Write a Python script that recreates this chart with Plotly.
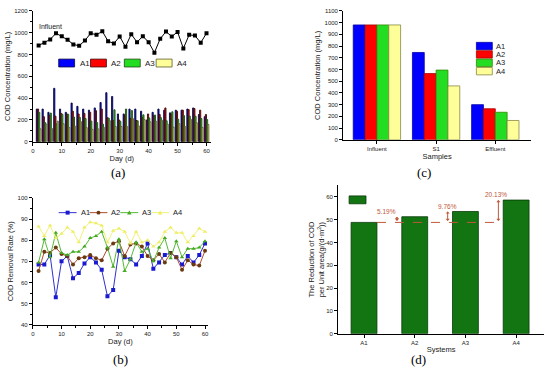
import plotly.graph_objects as go

# ---------------- data ----------------
days = list(range(2, 61, 2))
influent = [883, 908, 938, 995, 968, 935, 892, 880, 928, 995, 980, 1013, 922, 901, 965,
            871, 986, 913, 968, 913, 817, 944, 1010, 965, 1007, 856, 980, 974, 908, 995]
eff_A1 = [300, 300, 270, 490, 300, 270, 355, 325, 300, 290, 310, 360, 450, 415, 255,
          255, 300, 300, 280, 200, 270, 300, 290, 265, 290, 290, 300, 310, 250, 230]
eff_A2 = [300, 230, 245, 235, 260, 255, 280, 255, 260, 270, 285, 300, 220, 195, 200,
          240, 215, 195, 225, 255, 240, 250, 310, 255, 280, 290, 295, 305, 290, 250]
eff_A3 = [269, 177, 263, 164, 252, 252, 227, 224, 213, 189, 176, 162, 217, 293, 188,
          300, 286, 192, 247, 219, 245, 222, 192, 275, 206, 240, 235, 234, 213, 204]
eff_A4 = [119, 163, 122, 189, 165, 131, 143, 185, 130, 114, 118, 132, 194, 140, 140,
          139, 212, 146, 203, 183, 188, 198, 162, 135, 166, 141, 206, 175, 132, 159]

rate_A1 = [68.5, 68.5, 73, 53, 70, 72.5, 62, 64.5, 69, 72, 69.5, 66, 53.5, 56.5, 75,
           72, 71, 68.5, 72.5, 78.5, 66.5, 69.5, 73, 74, 72, 68.5, 72.5, 69.5, 73, 78.5]
rate_A2 = [65.5, 74.5, 74, 76.5, 73.5, 72.5, 68.5, 71.5, 72, 73, 71.5, 70.5, 76, 78.5, 79.5,
           72.5, 78, 78.5, 77, 72.5, 70.5, 73.5, 69.5, 74, 72, 66, 70.5, 68.5, 68, 75]
rate_A3 = [69.5, 80.5, 72, 83.5, 74, 73, 74.5, 74.5, 77, 81, 82, 84, 76.5, 67.5, 80.5,
           65.5, 71, 79, 74.5, 76, 70, 76.5, 81, 71.5, 79.5, 72, 76, 76, 76.5, 79.5]
rate_A4 = [86.5, 82, 87, 81, 83, 86, 84, 79, 86, 88.5, 88, 87, 79, 84.5, 85.5,
           84, 78.5, 84, 79, 80, 77, 79, 84, 86, 83.5, 83.5, 79, 82, 85.5, 84]

samples = ["Influent", "S1", "Effluent"]
c_A1 = [980, 745, 300]
c_A2 = [980, 565, 265]
c_A3 = [980, 595, 235]
c_A4 = [980, 460, 165]

systems = ["A1", "A2", "A3", "A4"]
reduction = [48.8, 51.3, 53.6, 58.6]
increase_labels = ["5.19%", "9.76%", "20.13%"]

series_names = ["A1", "A2", "A3", "A4"]
bar_colors = ["#0000ff", "#ff0000", "#22dd22", "#ffff99"]
bar_edges = ["#0a0a40", "#400a0a", "#204a10", "#5a5a28"]

FONT = "Liberation Sans"
W, H = 550, 381


def px_x(p):
    return p / W


def px_y(p):
    return 1 - p / H


fig = go.Figure()

# ---------------- (a) ----------------
effs = [eff_A1, eff_A2, eff_A3, eff_A4]
for i, (name, vals) in enumerate(zip(series_names, effs)):
    fig.add_trace(go.Bar(
        x=days, y=vals, name=name, xaxis="x", yaxis="y", showlegend=False,
        width=0.4, offset=-0.8 + 0.4 * i,
        marker=dict(color=bar_colors[i], line=dict(color=bar_edges[i], width=0.9)),
    ))
fig.add_trace(go.Scatter(
    x=days, y=influent, mode="lines+markers", xaxis="x", yaxis="y", showlegend=False,
    line=dict(color="black", width=1), marker=dict(symbol="square", size=4, color="black"),
))

# ---------------- (b) ----------------
rates = [rate_A1, rate_A2, rate_A3, rate_A4]
line_cols = ["#3030d0", "#b04a30", "#55bb33", "#f2f27a"]
mk_cols = ["#1a1ad0", "#6a3a10", "#44aa22", "#eeee66"]
symbols = ["square", "circle", "triangle-up", "triangle-up"]
for i, (name, vals) in enumerate(zip(series_names, rates)):
    fig.add_trace(go.Scatter(
        x=days, y=vals, name=name, mode="lines+markers", xaxis="x2", yaxis="y2",
        showlegend=False,
        line=dict(color=line_cols[i], width=1),
        marker=dict(symbol=symbols[i], size=4, color=mk_cols[i]),
    ))

# ---------------- (c) ----------------
cs = [c_A1, c_A2, c_A3, c_A4]
c_edges = ["#0000aa", "#aa0000", "#338800", "#888844"]
for i, (name, vals) in enumerate(zip(series_names, cs)):
    fig.add_trace(go.Bar(
        x=list(range(len(samples))), y=vals, name=name, xaxis="x3", yaxis="y3",
        showlegend=False, width=0.2, offset=-0.4 + 0.2 * i,
        marker=dict(color=bar_colors[i], line=dict(color=c_edges[i], width=0.8)),
    ))

# ---------------- (d) ----------------
d_fill, d_edge = "#127512", "#0a3a0a"
fig.add_trace(go.Bar(
    x=list(range(len(systems))), y=reduction, name="", xaxis="x4", yaxis="y4",
    showlegend=False, width=0.51,
    marker=dict(color=d_fill, line=dict(color=d_edge, width=0.8)),
))

annotations = []
shapes = []
arrow_col = "#c0583a"
shapes.append(dict(type="line", xref="x4", yref="y4", x0=0.255, x1=len(systems) - 1 - 0.255,
                   y0=reduction[0], y1=reduction[0],
                   line=dict(color=arrow_col, width=1, dash="dash")))
label_shift = [-10, 0, -2]
for i in range(1, len(systems)):
    xa = i - 0.35
    annotations.append(dict(
        x=xa, y=reduction[i], xref="x4", yref="y4", ax=xa, ay=reduction[0],
        axref="x4", ayref="y4", showarrow=True, arrowhead=1, arrowsize=0.7,
        arrowwidth=1, arrowcolor=arrow_col, arrowside="end+start", text=""))
    annotations.append(dict(
        x=xa, y=reduction[i] + 2.4, xref="x4", yref="y4", showarrow=False,
        text=increase_labels[i - 1], xshift=label_shift[i - 1],
        font=dict(family=FONT, size=6.5, color=arrow_col)))

# Influent label in (a)
annotations.append(dict(x=px_x(35), y=px_y(24), xref="paper", yref="paper", text="Influent",
                        showarrow=False, xanchor="left", yanchor="middle",
                        font=dict(family=FONT, size=7, color="#222222")))

# ---------------- hand-placed legends (layout only) ----------------
def rect(x0, y0, x1, y1, fill, edge, lw=0.8):
    shapes.append(dict(type="rect", xref="paper", yref="paper",
                       x0=px_x(x0), x1=px_x(x1), y0=px_y(y1), y1=px_y(y0),
                       fillcolor=fill, line=dict(color=edge, width=lw)))


def label(x, y, text, size=8):
    annotations.append(dict(x=px_x(x), y=px_y(y), xref="paper", yref="paper", text=text,
                            showarrow=False, xanchor="left", yanchor="middle",
                            font=dict(family=FONT, size=size, color="#222")))


# (a) legend
a_leg_x = [57, 89, 123, 155]
for i, name in enumerate(series_names):
    x0 = a_leg_x[i]
    rect(x0, 57, x0 + 16, 65, bar_colors[i], bar_edges[i])
    label(x0 + 19, 61, name, 8)

# (b) legend
b_leg_x = [57, 88, 119, 150]
yb = 213
for i, name in enumerate(series_names):
    x0 = b_leg_x[i]
    shapes.append(dict(type="line", xref="paper", yref="paper", x0=px_x(x0), x1=px_x(x0 + 18),
                       y0=px_y(yb), y1=px_y(yb), line=dict(color=line_cols[i], width=1)))
    cx = x0 + 9
    if symbols[i] == "square":
        shapes.append(dict(type="rect", xref="paper", yref="paper", x0=px_x(cx - 2),
                           x1=px_x(cx + 2), y0=px_y(yb + 2), y1=px_y(yb - 2),
                           fillcolor=mk_cols[i], line=dict(width=0)))
    elif symbols[i] == "circle":
        shapes.append(dict(type="circle", xref="paper", yref="paper", x0=px_x(cx - 2),
                           x1=px_x(cx + 2), y0=px_y(yb + 2), y1=px_y(yb - 2),
                           fillcolor=mk_cols[i], line=dict(width=0)))
    else:
        path = "M {:.5f},{:.5f} L {:.5f},{:.5f} L {:.5f},{:.5f} Z".format(
            px_x(cx - 2.3), px_y(yb + 2), px_x(cx + 2.3), px_y(yb + 2), px_x(cx), px_y(yb - 2.3))
        shapes.append(dict(type="path", xref="paper", yref="paper", path=path,
                           fillcolor=mk_cols[i], line=dict(width=0)))
    label(x0 + 20, yb, name, 7.5)

# (c) legend
c_leg_y = [40, 48.5, 57, 65.5]
for i, name in enumerate(series_names):
    y0 = c_leg_y[i]
    rect(477, y0, 493, y0 + 7.5, bar_colors[i], c_edges[i])
    label(495, y0 + 3.8, name, 7.5)

# (d) legend swatch
rect(349, 196, 366, 204, d_fill, d_edge)

# panel labels
for lab, xp, yp in [("(a)", 108, 172), ("(c)", 433, 172), ("(b)", 110, 372), ("(d)", 428, 372)]:
    annotations.append(dict(x=px_x(xp), y=px_y(yp), xref="paper", yref="paper", text=lab,
                            showarrow=False, font=dict(family="Liberation Serif", size=13,
                                                       color="black")))

tickfont = dict(family=FONT, size=6, color="#222")
titlefont = dict(family=FONT, size=7.5, color="#222")


def axis(domain, rng, title, dtick=None, minor=None, standoff=3, **kw):
    d = dict(domain=domain, range=rng, showline=True, linecolor="black", linewidth=1,
             ticks="outside", ticklen=3, tickwidth=1, tickcolor="black", showgrid=False,
             zeroline=False, tickfont=tickfont,
             title=dict(text=title, font=titlefont, standoff=standoff))
    if dtick is not None:
        d["dtick"] = dtick
        d["tick0"] = 0
    if minor is not None:
        d["minor"] = dict(dtick=minor, ticks="outside", ticklen=2, tickcolor="black",
                          showgrid=False)
    d.update(kw)
    return d


fig.update_layout(
    width=W, height=H, margin=dict(l=0, r=0, t=0, b=0),
    paper_bgcolor="white", plot_bgcolor="rgba(0,0,0,0)",
    barmode="overlay", showlegend=False, hovermode=False,
    font=dict(family=FONT, size=7, color="#222"),
    xaxis=axis([px_x(31), px_x(210)], [0, 61.5], "Day (d)", 10, 5, anchor="y", standoff=1),
    yaxis=axis([px_y(141), px_y(8)], [0, 1200], "COD Concentration (mg/L)", 200, 100,
               anchor="x", standoff=2),
    xaxis2=axis([px_x(31), px_x(207)], [0, 61], "Day (d)", 10, 5, anchor="y2", standoff=1),
    yaxis2=axis([px_y(327), px_y(198)], [40, 100], "COD Removal Rate (%)", 10, 5,
                anchor="x2", standoff=2),
    xaxis3=axis([px_x(343), px_x(532)], [-0.571, 2.605], "Samples", anchor="y3",
                tickmode="array", tickvals=list(range(len(samples))), ticktext=samples,
                standoff=1),
    yaxis3=axis([px_y(139), px_y(8)], [0, 1100], "COD Concentration (mg/L)", 100,
                anchor="x3", standoff=2),
    xaxis4=axis([px_x(338), px_x(545)], [-0.51, 3.55], "Systems", anchor="y4",
                tickmode="array", tickvals=list(range(len(systems))), ticktext=systems,
                standoff=1),
    yaxis4=axis([px_y(336), px_y(185.4)], [0, 65],
                "The Reduction of COD<br>per Unit area(g/(d·m<sup>2</sup>))", 10,
                anchor="x4", standoff=0),
    annotations=annotations, shapes=shapes,
)

fig.write_html("out.html", config={"displayModeBar": False},
               post_script="document.body.style.margin='0';document.body.style.overflow='hidden';")
